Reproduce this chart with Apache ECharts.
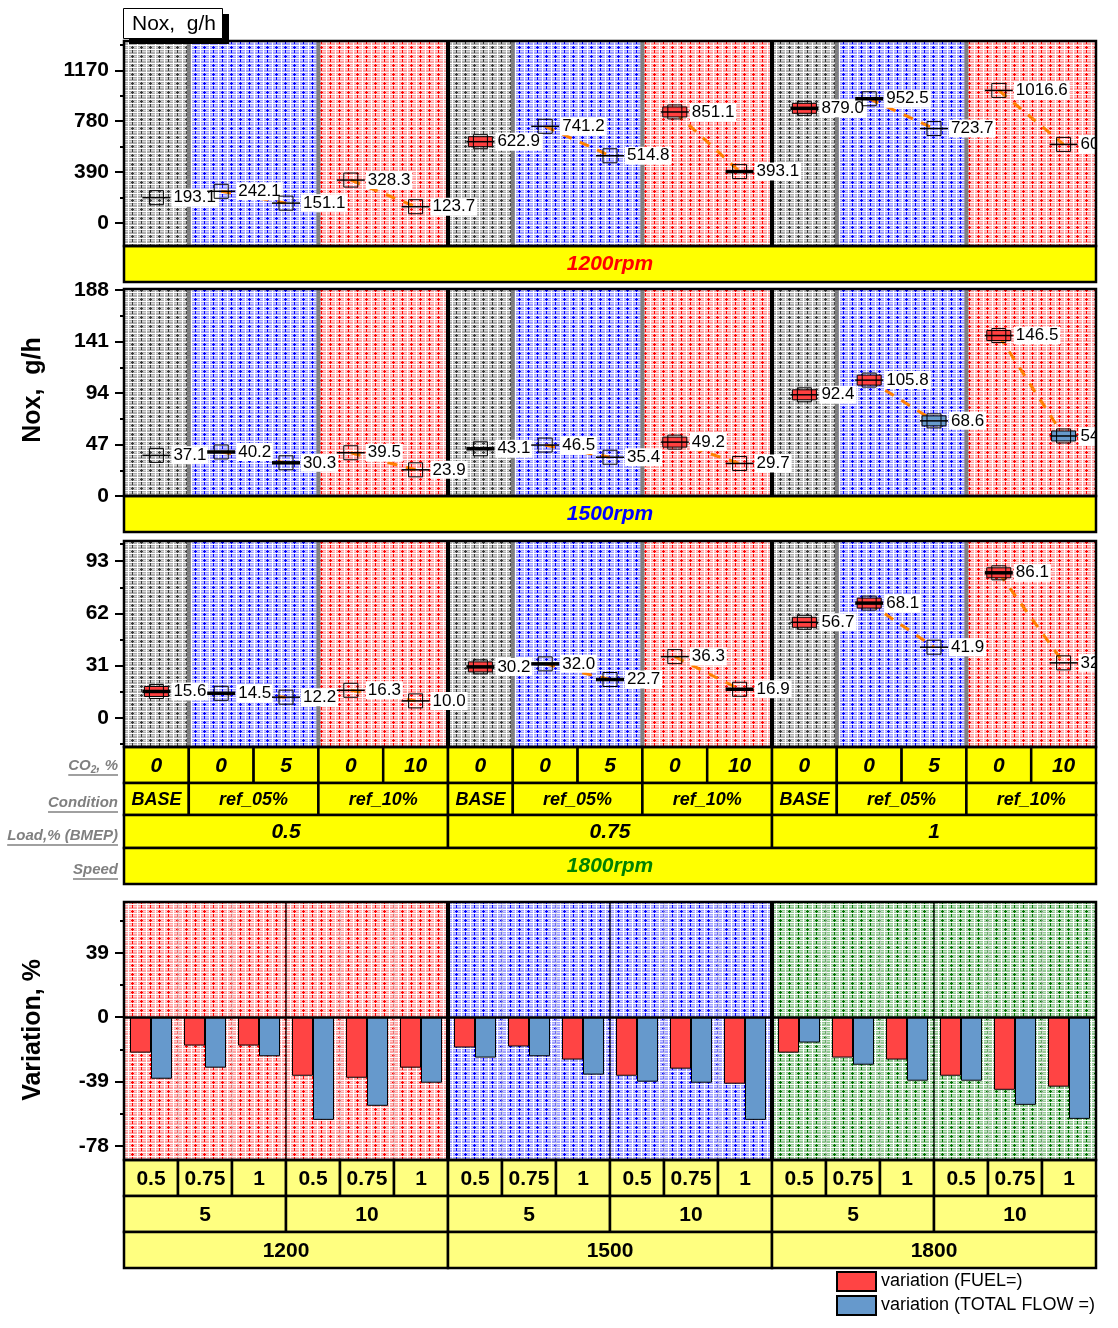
<!DOCTYPE html>
<html><head><meta charset="utf-8">
<script src="https://cdn.jsdelivr.net/npm/echarts@6/dist/echarts.min.js"></script>
<style>html,body{margin:0;padding:0;background:#fff}#c{width:1118px;height:1328px}</style>
</head><body><div id="c"></div>
<script>
// ---------------- DATA ----------------
const co2Cats       = ['0','0','5','0','10','0','0','5','0','10','0','0','5','0','10'];
const conditionCol  = ['BASE','ref_05%','ref_05%','ref_10%','ref_10%','BASE','ref_05%','ref_05%','ref_10%','ref_10%','BASE','ref_05%','ref_05%','ref_10%','ref_10%'];
const loadCol       = ['0.5','0.5','0.5','0.5','0.5','0.75','0.75','0.75','0.75','0.75','1','1','1','1','1'];
const speedLabels   = ['1200rpm','1500rpm','1800rpm'];
const nox1200 = [193.1,242.1,151.1,328.3,123.7,622.9,741.2,514.8,851.1,393.1,879.0,952.5,723.7,1016.6,602.0];
const nox1500 = [37.1,40.2,30.3,39.5,23.9,43.1,46.5,35.4,49.2,29.7,92.4,105.8,68.6,146.5,54.8];
const nox1800 = [15.6,14.5,12.2,16.3,10.0,30.2,32.0,22.7,36.3,16.9,56.7,68.1,41.9,86.1,32.6];
const yTicks1200 = [0,390,780,1170];
const yTicks1500 = [0,47,94,141,188];
const yTicks1800 = [0,31,62,93];

const barLoadCol  = ['0.5','0.75','1','0.5','0.75','1','0.5','0.75','1','0.5','0.75','1','0.5','0.75','1','0.5','0.75','1'];
const barCo2Col   = ['5','5','5','10','10','10','5','5','5','10','10','10','5','5','5','10','10','10'];
const barSpeedCol = ['1200','1200','1200','1200','1200','1200','1500','1500','1500','1500','1500','1500','1800','1800','1800','1800','1800','1800'];
const varFuel  = [-21.5,-17.2,-17.2,-35.5,-36.7,-30.6,-18.4,-17.8,-25.7,-35.5,-31.2,-40.3,-21.5,-24.5,-25.7,-35.5,-44.0,-42.1];
const varTotal = [-37.3,-30.6,-23.7,-62.2,-53.7,-39.7,-24.5,-23.7,-34.8,-39.1,-39.7,-62.2,-15.4,-28.8,-38.5,-38.5,-53.1,-61.6];
const yTicksVar = [-78,-39,0,39];
const legendNames = ['variation (FUEL=)','variation (TOTAL FLOW =)'];

// ---------------- STYLE / LAYOUT ----------------
const FONT = 'Liberation Sans, Arial, sans-serif';
const L = 124, W = 972;
const markerFills = [
  {5:'#ff4040',8:'#ff4040',10:'#ff4040'},
  {8:'#ff4040',10:'#ff4040',11:'#ff4040',12:'#6699cc',13:'#ff4040',14:'#6699cc'},
  {0:'#ff4040',5:'#ff4040',10:'#ff4040',11:'#ff4040',13:'#ff4040'}
];
const thickLines = [
  {9:1,11:1,10:1}, {1:1,5:1,2:1}, {0:1,1:1,5:1,6:1,7:1,9:1,11:1,13:1}
];

function pat(base, strong) {
  const c = document.createElement('canvas'); c.width = 9; c.height = 9;
  const g = c.getContext('2d');
  g.fillStyle = base; g.fillRect(0,0,9,9);
  g.fillStyle = '#ffffff';
  g.fillRect(0,0,9,1); g.fillRect(0,4,9,1);
  g.fillRect(2,0,1,9);
  g.globalAlpha = 0.5;
  g.fillRect(0,2,9,1); g.fillRect(0,6,9,1);
  g.globalAlpha = 1;
  g.fillStyle = strong;
  g.fillRect(6,1,1,3); g.fillRect(6,5,1,3);
  g.fillRect(5,2,3,1);
  return {image: c, repeat: 'repeat'};
}
const P = {
  gray: pat('#aeaeae', '#383838'),
  blue: pat('#a0a0ff', '#0000ff'),
  red:  pat('#ffa2a2', '#ff0000'),
  green:pat('#94c894', '#007000')
};
const condPattern = {'BASE': P.gray, 'ref_05%': P.blue, 'ref_10%': P.red};
const speedPattern = {'1200': P.red, '1500': P.blue, '1800': P.green};

const panels = [
  {top:41,  h:205, min:-178, max:1396, data:nox1200, ticks:yTicks1200, minor:[195,585,975,1365]},
  {top:289, h:207, min:0,    max:189,  data:nox1500, ticks:yTicks1500, minor:[23.5,70.5,117.5,164.5]},
  {top:541, h:206, min:-17.4,max:105,  data:nox1800, ticks:yTicks1800, minor:[-15.5,15.5,46.5,77.5,103.5]}
];
const barPanel = {top:902, h:258, min:-86.5, max:69.7, minor:[-58.5,-19.5,19.5,58.5]};

const grids = [], xAxes = [], yAxes = [], series = [];
function yPair(gi, p, ticks) {
  yAxes.push({gridIndex:gi, type:'value', position:'left', min:p.min, max:p.max,
    axisLine:{show:false}, splitLine:{show:false},
    axisTick:{show:true, customValues:ticks, length:9, lineStyle:{color:'#000', width:2}},
    axisLabel:{customValues:ticks, formatter:v => String(v), fontSize:21, fontWeight:'bold', color:'#000', fontFamily:FONT, margin:15}});
  yAxes.push({gridIndex:gi, type:'value', position:'left', min:p.min, max:p.max,
    axisLine:{show:false}, splitLine:{show:false},
    axisTick:{show:true, customValues:p.minor, length:4, lineStyle:{color:'#000', width:2}},
    axisLabel:{show:false}});
}

function bgRender(colTypes, patterns, sepFn) {
  return function(params, api) {
    const i = api.value(0);
    const cs = params.coordSys;
    const w = api.size([1,0])[0];
    const x = api.coord([i, 0])[0] - w/2;
    const ch = [{type:'rect', shape:{x:x, y:cs.y, width:w, height:cs.height}, style:{fill:patterns[colTypes[i]]}}];
    if (i > 0) {
      const s = sepFn(i);
      if (s) ch.push({type:'line', shape:{x1:x, y1:cs.y, x2:x, y2:cs.y+cs.height}, style:{stroke:s.c, lineWidth:s.w}});
    }
    return {type:'group', children:ch};
  };
}

panels.forEach((p, gi) => {
  grids.push({left:L, top:p.top, width:W, height:p.h, containLabel:false});
  xAxes.push({gridIndex:gi, type:'category', boundaryGap:true, data:co2Cats.map((_, i) => String(i)), show:false});
  yPair(gi, p, p.ticks);
  const yi = gi*2;
  series.push({type:'custom', xAxisIndex:gi, yAxisIndex:yi, z:1, silent:true, clip:true,
    data: co2Cats.map((_, i) => [i, 0]),
    renderItem: bgRender(conditionCol, condPattern, i => {
      if (loadCol[i] !== loadCol[i-1]) return {c:'#000', w:4};
      if (conditionCol[i] !== conditionCol[i-1]) return {c:'#808080', w:4};
      return null;
    })});
  ['ref_05%','ref_10%'].forEach(cond => {
    series.push({type:'line', xAxisIndex:gi, yAxisIndex:yi, z:2, silent:true, symbol:'none', connectNulls:false,
      data: p.data.map((v, i) => conditionCol[i] === cond ? v : null),
      lineStyle:{color:'#ff8000', width:3, type:[10,9]}});
  });
  const fills = markerFills[gi], thick = thickLines[gi];
  series.push({type:'custom', xAxisIndex:gi, yAxisIndex:yi, z:3, silent:true, clip:true,
    data: p.data.map((v, i) => [i, v]),
    renderItem: function(params, api) {
      const i = api.value(0), v = api.value(1);
      const pt = api.coord([i, v]);
      const ch = [];
      if (fills[i]) ch.push({type:'rect', shape:{x:pt[0]-12, y:pt[1]-5, width:24, height:10}, style:{fill:fills[i], stroke:'#000', lineWidth:1}});
      ch.push({type:'rect', shape:{x:pt[0]-7, y:pt[1]-7, width:14, height:14}, style:{fill:'none', stroke:'#000', lineWidth:1}});
      ch.push({type:'line', shape:{x1:pt[0]-14, y1:pt[1], x2:pt[0]+14, y2:pt[1]}, style:{stroke:'#000', lineWidth:thick[i] ? 3.5 : 1.5}});
      ch.push({type:'text', x:pt[0]+15, y:pt[1], style:{text:v.toFixed(1), font:'17px ' + FONT, fill:'#000',
        align:'left', verticalAlign:'middle', backgroundColor:'#fff', padding:[1,2,0,2]}});
      return {type:'group', children:ch};
    }});
});

// bar grid
const bgi = 3;
grids.push({left:L, top:barPanel.top, width:W, height:barPanel.h});
xAxes.push({gridIndex:bgi, type:'category', boundaryGap:true, data:barLoadCol.map((_, i) => String(i)), show:false});
yPair(bgi, barPanel, yTicksVar);
series.push({type:'custom', xAxisIndex:bgi, yAxisIndex:6, z:1, silent:true, clip:true,
  data: barLoadCol.map((_, i) => [i, 0]),
  renderItem: bgRender(barSpeedCol, speedPattern, i => {
    if (barSpeedCol[i] !== barSpeedCol[i-1]) return {c:'#000', w:4};
    if (barCo2Col[i] !== barCo2Col[i-1]) return {c:'#000', w:1.3};
    return {c:'#d8d8d8', w:1};
  })});
series.push({type:'bar', name:legendNames[0], xAxisIndex:bgi, yAxisIndex:6, z:3, data:varFuel, barWidth:21, barGap:'0%',
  itemStyle:{color:'#ff4444', borderColor:'#000', borderWidth:1},
  markLine:{silent:true, symbol:'none', label:{show:false}, data:[{yAxis:0}], lineStyle:{color:'#000', width:2.5, type:'solid'}}});
series.push({type:'bar', name:legendNames[1], xAxisIndex:bgi, yAxisIndex:6, z:3, data:varTotal, barWidth:21, barGap:'0%',
  itemStyle:{color:'#6699cc', borderColor:'#000', borderWidth:1}});

// ---------------- GRAPHICS: frames, bands, tables, titles ----------------
const G = [];
const colW = W / co2Cats.length, bColW = W / barLoadCol.length;
function frame(y, h) { G.push({type:'rect', z:60, shape:{x:L, y:y, width:W, height:h}, style:{fill:'none', stroke:'#000', lineWidth:2.5}}); }
function band(y0, y1, text, color, fill) {
  G.push({type:'rect', z:50, shape:{x:L, y:y0, width:W, height:y1-y0}, style:{fill:fill, stroke:'#000', lineWidth:2.5}});
  G.push({type:'text', z:51, x:L+W/2, y:(y0+y1)/2, style:{text:text, font:'italic bold 21px ' + FONT, fill:color, align:'center', verticalAlign:'middle'}});
}
function cellRow(values, cw, y0, y1, merge, font, fill) {
  let i = 0;
  while (i < values.length) {
    let j = i + 1;
    if (merge) while (j < values.length && values[j] === values[i]) j++;
    const x = L + i*cw, w = (j-i)*cw;
    G.push({type:'rect', z:50, shape:{x:x, y:y0, width:w, height:y1-y0}, style:{fill:fill, stroke:'#000', lineWidth:2.5}});
    G.push({type:'text', z:51, x:x+w/2, y:(y0+y1)/2+1, style:{text:values[i], font:font, fill:'#000', align:'center', verticalAlign:'middle'}});
    i = j;
  }
}
panels.forEach(p => frame(p.top, p.h));
band(246, 282, speedLabels[0], '#ff0000', '#ffff00');
band(496, 532, speedLabels[1], '#0000ff', '#ffff00');
cellRow(co2Cats, colW, 747, 783, false, 'italic bold 21px ' + FONT, '#ffff00');
cellRow(conditionCol, colW, 783, 815, true, 'italic bold 18px ' + FONT, '#ffff00');
cellRow(loadCol, colW, 815, 848, true, 'italic bold 21px ' + FONT, '#ffff00');
band(848, 884, speedLabels[2], '#008000', '#ffff00');
frame(barPanel.top, barPanel.h);
const NF = 'bold 21px Liberation Sans Narrow, Arial Narrow, ' + FONT;
cellRow(barLoadCol, bColW, 1160, 1196, false, NF, '#ffff80');
cellRow(barCo2Col, bColW, 1196, 1232, true, NF, '#ffff80');
cellRow(barSpeedCol, bColW, 1232, 1268, true, NF, '#ffff80');

// row labels (gray, underlined)
const mctx = document.createElement('canvas').getContext('2d');
function rowLabel(y, parts) {
  let total = 0;
  parts.forEach(pp => { mctx.font = 'italic bold ' + pp.s + 'px ' + FONT; total += mctx.measureText(pp.t).width; });
  let x = 118 - total;
  parts.forEach(pp => {
    mctx.font = 'italic bold ' + pp.s + 'px ' + FONT;
    G.push({type:'text', z:51, x:x, y:y + (pp.dy || 0), style:{text:pp.t, font:'italic bold ' + pp.s + 'px ' + FONT, fill:'#808080', align:'left', verticalAlign:'middle'}});
    x += mctx.measureText(pp.t).width;
  });
  G.push({type:'line', z:51, shape:{x1:118-total, y1:y+9, x2:118, y2:y+9}, style:{stroke:'#808080', lineWidth:1.3}});
}
rowLabel(766, [{t:'CO', s:15}, {t:'2', s:10, dy:4}, {t:', %', s:15}]);
rowLabel(803, [{t:'Condition', s:15}]);
rowLabel(836, [{t:'Load,% (BMEP)', s:15}]);
rowLabel(870, [{t:'Speed', s:15}]);

// top-left title box
G.push({type:'rect', z:50, shape:{x:129, y:14, width:100, height:30}, style:{fill:'#000'}});
G.push({type:'rect', z:51, shape:{x:123.5, y:8.5, width:99, height:30}, style:{fill:'#fff', stroke:'#000', lineWidth:1}});
G.push({type:'text', z:52, x:132, y:24, style:{text:'Nox,  g/h', font:'21px ' + FONT, fill:'#000', align:'left', verticalAlign:'middle'}});
// axis titles
G.push({type:'text', z:52, x:33, y:390, rotation:Math.PI/2, style:{text:'Nox,  g/h', font:'bold 25px ' + FONT, fill:'#000', align:'center', verticalAlign:'middle'}});
G.push({type:'text', z:52, x:33, y:1030, rotation:Math.PI/2, style:{text:'Variation, %', font:'bold 25px ' + FONT, fill:'#000', align:'center', verticalAlign:'middle'}});

const chart = echarts.init(document.getElementById('c'), null, {renderer:'canvas', width:1118, height:1328});
chart.setOption({
  animation:false,
  backgroundColor:'#ffffff',
  grid:grids, xAxis:xAxes, yAxis:yAxes, series:series,
  legend:{data:legendNames, orient:'vertical', left:836, top:1271, padding:0, itemWidth:39, itemHeight:19, itemGap:3,
    icon:'rect', selectedMode:false, textStyle:{fontSize:18, color:'#000', fontFamily:FONT, padding:[0,0,0,0]}},
  graphic:G
});
</script></body></html>
